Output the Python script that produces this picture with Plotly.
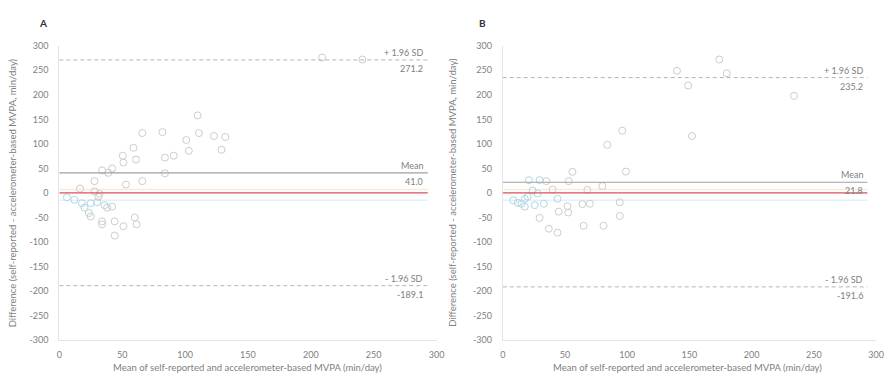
import plotly.graph_objects as go

# Panel A data (mean, difference)
a_x = [66, 82, 110, 111, 101, 123, 132, 129, 103, 91, 84, 84, 59, 61, 50.5, 51, 42, 39, 34, 28, 66, 53, 16.5, 209, 241,
       6, 18, 25, 31, 30, 36, 23.5, 25, 34, 34, 44, 44, 51, 60, 61.5, 12, 28, 38, 42, 20, 32]
a_y = [122, 124, 158, 122, 108, 116, 114, 88, 86, 76, 72, 40, 92, 68, 76, 62, 50, 41, 46, 24, 24, 17, 9, 276, 272,
       -9, -21, -21, -8, -19, -25, -41, -48, -58, -64, -58, -87, -68, -50, -64, -14, 3, -30, -28, -30, -2]
a_blue = [False]*25 + [True, True, True, False, True, True, False, False, False, False, False, False, False, False, False,
                        True, False, False, False, True, False]

# Panel B data
b_x = [140, 149, 174, 180, 234, 152, 96, 84, 99, 56, 53, 21, 29.6, 35, 40, 80, 68,
       8.5, 15, 17.7, 17.7, 25.7, 33, 44, 29.6, 37, 44, 45, 52, 52.6, 64, 65, 70, 81, 94, 94, 28, 12, 20, 24]
b_y = [249, 219, 272, 244, 198, 116, 127, 98, 43.5, 43, 24, 26, 26, 24, 7, 14, 6,
       -15, -22, -28, -12, -25, -22, -12, -51, -73, -81, -38, -27, -40, -23, -67, -22, -67, -19, -47, -1, -20, -8, 5]
b_blue = [False]*11 + [True, True, False, False, False, False,
                        True, True, True, True, True, True, True, False, False, False, False, False, False, False, False,
                        False, False, False, False, True, True, True, True]

# Bland-Altman statistics
a_stats = {"upper": 271.2, "mean": 41.0, "lower": -189.1}
b_stats = {"upper": 235.2, "mean": 21.8, "lower": -191.6}

x_ticks = [0, 50, 100, 150, 200, 250, 300]
y_ticks = [-300, -250, -200, -150, -100, -50, 0, 50, 100, 150, 200, 250, 300]
x_range = [0, 300]
y_range = [-300, 300]
line_x_end = 293

fig = go.Figure()

FONT = "Lato, Open Sans, sans-serif"
TXT = "#808080"

def add_panel(xs, ys, blue, stats, xa, ya, label, lab_x):
    gx = [x for x, b in zip(xs, blue) if not b]
    gy = [y for y, b in zip(ys, blue) if not b]
    bx = [x for x, b in zip(xs, blue) if b]
    by = [y for y, b in zip(ys, blue) if b]
    fig.add_trace(go.Scatter(x=gx, y=gy, mode="markers", xaxis=xa, yaxis=ya, showlegend=False,
                             marker=dict(symbol="circle-open", size=7, color="#cdcdcd", line=dict(width=1))))
    fig.add_trace(go.Scatter(x=bx, y=by, mode="markers", xaxis=xa, yaxis=ya, showlegend=False,
                             marker=dict(symbol="circle-open", size=7, color="#b2d6e4", line=dict(width=1))))
    ref_x = xa
    ref_y = ya
    # faint bands
    fig.add_shape(type="line", xref=ref_x, yref=ref_y, x0=0, x1=line_x_end, y0=7, y1=7,
                  line=dict(color="#fbe9d8", width=1.5), layer="below")
    fig.add_shape(type="line", xref=ref_x, yref=ref_y, x0=0, x1=line_x_end, y0=-15, y1=-15,
                  line=dict(color="#dcf4f7", width=1.5), layer="below")
    # zero line
    fig.add_shape(type="line", xref=ref_x, yref=ref_y, x0=0, x1=line_x_end, y0=0, y1=0,
                  line=dict(color="#d9535a", width=1.3))
    # mean
    fig.add_shape(type="line", xref=ref_x, yref=ref_y, x0=0, x1=line_x_end, y0=stats["mean"], y1=stats["mean"],
                  line=dict(color="#a0a0a0", width=1.2))
    for k in ("upper", "lower"):
        fig.add_shape(type="line", xref=ref_x, yref=ref_y, x0=0, x1=line_x_end, y0=stats[k], y1=stats[k],
                      line=dict(color="#b4b4b4", width=1, dash="4px,3px"))
    labels = [("+ 1.96 SD", stats["upper"]), ("Mean", stats["mean"]), ("- 1.96 SD", stats["lower"])]
    for name, v in labels:
        fig.add_annotation(xref=ref_x, yref=ref_y, x=291, y=v, text=name, showarrow=False,
                           xanchor="right", yanchor="bottom", yshift=0,
                           font=dict(family=FONT, size=9, color=TXT))
        fig.add_annotation(xref=ref_x, yref=ref_y, x=291, y=v, text=f"{v:.1f}", showarrow=False,
                           xanchor="right", yanchor="top", yshift=-1,
                           font=dict(family=FONT, size=9, color=TXT))
    fig.add_annotation(xref="paper", yref="paper", x=lab_x, y=1 - 17/380, text=f"<b>{label}</b>", showarrow=False,
                       xanchor="center", yanchor="middle", font=dict(family=FONT, size=10, color="#333"))

add_panel(a_x, a_y, a_blue, a_stats, "x", "y", "A", 40/891)
add_panel(b_x, b_y, b_blue, b_stats, "x2", "y2", "B", 485/891)

ytitle = "Difference (self-reported - accelerometer-based MVPA, min/day)"
xtitle = "Mean of self-reported and accelerometer-based MVPA (min/day)"
for xp in (10/891, 455/891):
    fig.add_annotation(xref="paper", yref="paper", x=xp, y=1 - 192/380, text=ytitle, textangle=-90,
                       xanchor="center", yanchor="middle",
                       showarrow=False, font=dict(family=FONT, size=9.5, color=TXT))
for xp in (248/891, 693/891):
    fig.add_annotation(xref="paper", yref="paper", x=xp, y=1 - 372/380, text=xtitle,
                       xanchor="center", yanchor="middle",
                       showarrow=False, font=dict(family=FONT, size=9.5, color=TXT))

top = 1 - 41/380
bot = 1 - 344/380
axis_common = dict(showgrid=False, zeroline=False, showline=True, linecolor="#e4e4e4", linewidth=1,
                   ticks="", tickfont=dict(family=FONT, size=9, color=TXT), fixedrange=True)
xt = dict(tickmode="array", tickvals=x_ticks, ticktext=[str(v) for v in x_ticks], ticklabelstandoff=6)
yt = dict(tickmode="array", tickvals=y_ticks, ticktext=[str(v) for v in y_ticks], ticklabelstandoff=8)
fig.update_layout(
    width=891, height=380, margin=dict(l=0, r=0, t=0, b=0),
    paper_bgcolor="white", plot_bgcolor="white", showlegend=False,
    xaxis=dict(domain=[57/891, 439/891], range=x_range, anchor="y", **xt, **axis_common),
    yaxis=dict(domain=[bot, top], range=y_range, anchor="x", **yt, **axis_common),
    xaxis2=dict(domain=[506/891, 884/891], range=x_range, anchor="y2", **xt, **axis_common),
    yaxis2=dict(domain=[bot, top], range=y_range, anchor="x2", **yt, **axis_common),
)
fig.write_html("out.html")
